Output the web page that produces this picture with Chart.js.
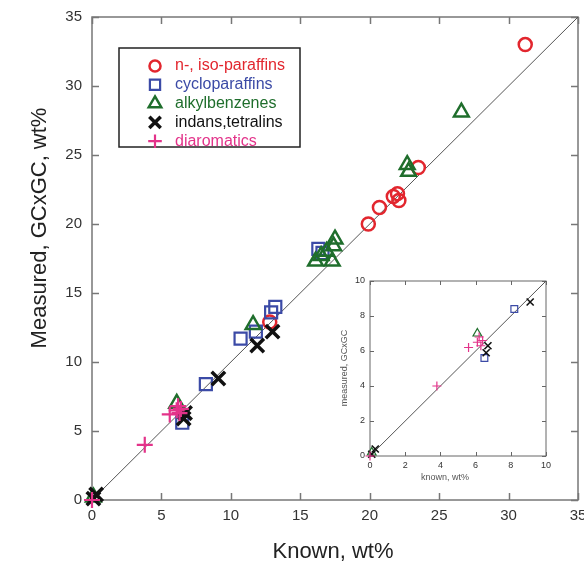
<!DOCTYPE html>
<html>
<head>
<meta charset="utf-8">
<script src="https://cdn.jsdelivr.net/npm/chart.js@4.4.1/dist/chart.umd.min.js"></script>
<style>
  html, body { margin: 0; padding: 0; background: #fff; }
  #wrap { position: relative; width: 584px; height: 571px; }
  #main { position: absolute; left: 0; top: 0; }
  #inset { position: absolute; left: 335px; top: 268px; }
</style>
</head>
<body>
<div id="wrap">
  <canvas id="main" width="584" height="571"></canvas>
  <canvas id="inset" width="225" height="220"></canvas>
</div>
<script>
// values (known wt%, measured wt%)
const seriesNames = ['n-, iso-paraffins', 'cycloparaffins', 'alkylbenzenes', 'indans,tetralins', 'diaromatics'];

const paraffinKnown    = [12.8, 19.9, 20.7, 21.7, 22.0, 22.1, 23.5, 31.2];
const paraffinMeasured = [12.9, 20.0, 21.2, 22.0, 22.2, 21.7, 24.1, 33.0];

const cycloKnown    = [6.5, 8.2, 10.7, 11.8, 12.9, 13.2, 16.3, 16.6];
const cycloMeasured = [5.6, 8.4, 11.7, 12.2, 13.6, 14.0, 18.2, 17.9];

const alkylKnown    = [0.1, 6.1, 11.6, 16.1, 16.5, 16.9, 17.3, 17.4, 17.5, 22.7, 22.8, 26.6];
const alkylMeasured = [0.2, 7.0, 12.7, 17.3, 17.7, 18.0, 17.3, 18.4, 18.9, 24.3, 23.8, 28.1];

const indanKnown    = [0.1, 0.3, 6.6, 6.7, 9.1, 11.9, 13.0];
const indanMeasured = [0.1, 0.4, 5.9, 6.3, 8.8, 11.2, 12.2];

const diaroKnown    = [0.0, 3.8, 5.6, 6.1, 6.2, 6.4, 6.3];
const diaroMeasured = [0.0, 4.0, 6.2, 6.5, 6.8, 6.6, 6.3];

const mainTicks  = [0, 5, 10, 15, 20, 25, 30, 35];
const insetTicks = [0, 2, 4, 6, 8, 10];

const knownLists    = [paraffinKnown, cycloKnown, alkylKnown, indanKnown, diaroKnown];
const measuredLists = [paraffinMeasured, cycloMeasured, alkylMeasured, indanMeasured, diaroMeasured];

// marker styling
const colors    = ['#e2262e', '#3b4aa6', '#1f6e2c', '#111111', '#e3338a'];
const shapes    = ['circle', 'rect', 'triangle', 'crossRot', 'cross'];
const bigSize   = [6.5, 8.5, 8.5, 9.5, 8];
const bigWidth  = [2.5, 2.2, 2.5, 3.5, 2.2];
const smallSize = [3.5, 4.8, 5, 5, 4.5];
const smallWidth = [1.2, 1.2, 1.2, 1.6, 1.2];

const FONT = '"Liberation Sans", Arial, Helvetica, sans-serif';

function points(i, limit) {
    return knownLists[i]
        .map((k, j) => ({ x: k, y: measuredLists[i][j] }))
        .filter(p => p.x <= limit && p.y <= limit);
}

function makeDatasets(limit, sizes, widths) {
    const sets = seriesNames.map((name, i) => ({
        type: 'scatter',
        label: name,
        data: points(i, limit),
        pointStyle: shapes[i],
        pointRadius: sizes[i],
        pointBorderWidth: widths[i],
        borderColor: colors[i],
        backgroundColor: 'rgba(0,0,0,0)',
        clip: false,
        order: seriesNames.length - i, // later series end up on top
    }));
    // y = x reference line, drawn underneath everything
    sets.push({
        type: 'line',
        label: 'diagonal',
        data: [{ x: 0, y: 0 }, { x: limit, y: limit }],
        borderColor: '#555',
        borderWidth: 1,
        pointRadius: 0,
        order: 99,
    });
    return sets;
}

// box + inward ticks on all four sides + axis titles
const frame = {
    id: 'frame',
    beforeDraw(chart) {
        const ctx = chart.ctx;
        ctx.save();
        ctx.fillStyle = '#fff';
        ctx.fillRect(0, 0, chart.width, chart.height);
        ctx.restore();
    },
    beforeDatasetsDraw(chart, args, o) {
        const { ctx, chartArea: a, scales: { x, y } } = chart;
        ctx.save();
        ctx.strokeStyle = o.color;
        ctx.lineWidth = o.width;
        ctx.strokeRect(a.left, a.top, a.right - a.left, a.bottom - a.top);
        ctx.beginPath();
        x.ticks.forEach(t => {
            const px = Math.round(x.getPixelForValue(t.value)) + 0.5;
            ctx.moveTo(px, a.bottom); ctx.lineTo(px, a.bottom - o.len);
            ctx.moveTo(px, a.top);    ctx.lineTo(px, a.top + o.len);
        });
        y.ticks.forEach(t => {
            const py = Math.round(y.getPixelForValue(t.value)) + 0.5;
            ctx.moveTo(a.left, py);  ctx.lineTo(a.left + o.len, py);
            ctx.moveTo(a.right, py); ctx.lineTo(a.right - o.len, py);
        });
        ctx.stroke();

        ctx.fillStyle = o.titleColor;
        ctx.font = o.titleFont;
        ctx.textAlign = 'center';
        ctx.textBaseline = 'middle';
        ctx.fillText(o.xTitle, o.xTitleX, o.xTitleY);
        ctx.translate(o.yTitleX, o.yTitleY);
        ctx.rotate(-Math.PI / 2);
        ctx.fillText(o.yTitle, 0, 0);
        ctx.restore();
    }
};

// boxed legend in the upper left of the main plot
const boxLegend = {
    id: 'boxLegend',
    afterDraw(chart, args, o) {
        const ctx = chart.ctx;
        ctx.save();
        ctx.fillStyle = '#fff';
        ctx.fillRect(o.left, o.top, o.width, o.height);
        ctx.strokeStyle = '#222';
        ctx.lineWidth = 1.5;
        ctx.strokeRect(o.left, o.top, o.width, o.height);
        ctx.font = o.font;
        ctx.textBaseline = 'middle';
        ctx.textAlign = 'left';
        seriesNames.forEach((name, i) => {
            const cy = o.top + o.first + i * o.step;
            ctx.strokeStyle = colors[i];
            ctx.fillStyle = 'rgba(0,0,0,0)';
            ctx.lineWidth = bigWidth[i];
            Chart.helpers.drawPoint(ctx, {
                pointStyle: shapes[i], radius: bigSize[i] * 0.85, borderWidth: bigWidth[i], rotation: 0
            }, o.markerX, cy);
            ctx.fillStyle = colors[i];
            ctx.fillText(name, o.textX, cy);
        });
        ctx.restore();
    }
};

function axis(pos, ticksList, max, size, tickFont, pad) {
    return {
        type: 'linear',
        position: pos,
        min: 0,
        max: max,
        grid: { display: false, drawTicks: false },
        border: { display: false },
        afterBuildTicks: s => { s.ticks = ticksList.map(v => ({ value: v })); },
        afterFit: s => {
            if (pos === 'left') s.width = size; else s.height = size;
            // keep the plot box where it is, labels may overhang
            s.paddingLeft = 0; s.paddingRight = 0;
            s.paddingTop = 0; s.paddingBottom = 0;
        },
        ticks: {
            font: { family: FONT, size: tickFont },
            color: '#333',
            padding: pad,
            maxRotation: 0,
            autoSkip: false,
        },
    };
}

new Chart(document.getElementById('main'), {
    data: { datasets: makeDatasets(35, bigSize, bigWidth) },
    options: {
        responsive: false,
        animation: false,
        layout: { autoPadding: false, padding: { top: 17, right: 6, left: 0, bottom: 0 } },
        scales: {
            x: axis('bottom', mainTicks, 35, 71, 15, 7),
            y: axis('left', mainTicks, 35, 92, 15, 10),
        },
        plugins: {
            legend: { display: false },
            tooltip: { enabled: false },
            frame: {
                color: '#777', width: 1.5, len: 7,
                titleColor: '#222', titleFont: '22px ' + FONT,
                xTitle: 'Known, wt%', xTitleX: 333, xTitleY: 552,
                yTitle: 'Measured, GCxGC, wt%', yTitleX: 40, yTitleY: 228,
            },
            boxLegend: {
                left: 119, top: 48, width: 181, height: 99,
                first: 18, step: 18.8, markerX: 155, textX: 175,
                font: '16px ' + FONT,
            },
        },
    },
    plugins: [frame, boxLegend],
});

new Chart(document.getElementById('inset'), {
    data: { datasets: makeDatasets(10, smallSize, smallWidth) },
    options: {
        responsive: false,
        animation: false,
        layout: { autoPadding: false, padding: { top: 13, right: 14, left: 0, bottom: 0 } },
        scales: {
            x: axis('bottom', insetTicks, 10, 32, 9, 4),
            y: axis('left', insetTicks, 10, 35, 9, 5),
        },
        plugins: {
            legend: { display: false },
            tooltip: { enabled: false },
            frame: {
                color: '#666', width: 1, len: 4,
                titleColor: '#555', titleFont: '9px ' + FONT,
                xTitle: 'known, wt%', xTitleX: 110, xTitleY: 210,
                yTitle: 'measured, GCxGC', yTitleX: 10, yTitleY: 100,
            },
        },
    },
    plugins: [frame],
});
</script>
</body>
</html>
